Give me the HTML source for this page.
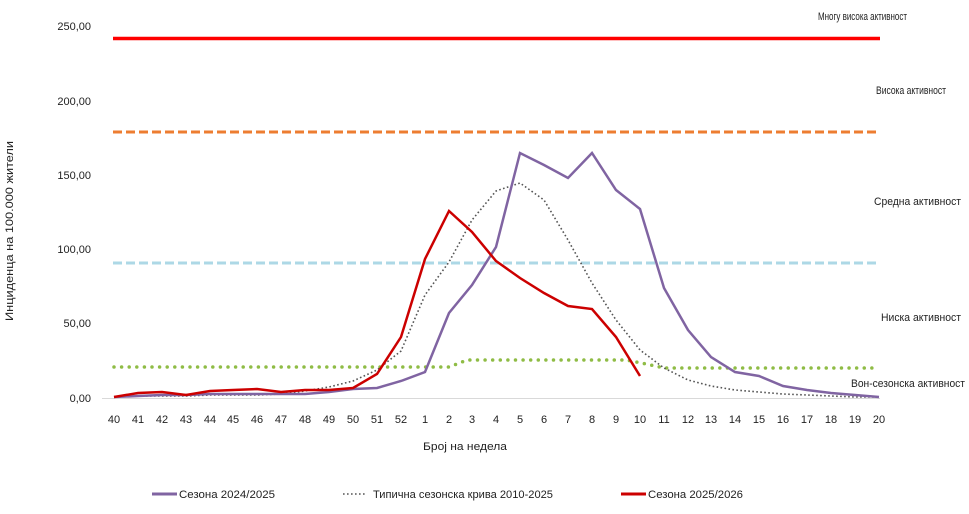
<!DOCTYPE html>
<html><head><meta charset="utf-8"><style>
body{margin:0;background:#fff;}
svg text{font-family:"Liberation Sans","DejaVu Sans",sans-serif;font-size:11px;fill:#222;}
</style></head><body>
<svg width="969" height="509" viewBox="0 0 969 509" xmlns="http://www.w3.org/2000/svg">
<g text-anchor="end">
<text x="91" y="30">250,00</text>
<text x="91" y="105">200,00</text>
<text x="91" y="179">150,00</text>
<text x="91" y="253">100,00</text>
<text x="91" y="327">50,00</text>
<text x="91" y="402">0,00</text>
</g>
<text transform="translate(13,231) rotate(-90)" text-anchor="middle" font-size="11" textLength="180" lengthAdjust="spacingAndGlyphs">Инциденца на 100.000  жители</text>
<line x1="102" y1="398.5" x2="880" y2="398.5" stroke="#d9d9d9" stroke-width="1"/>
<g text-anchor="middle">
<text x="114" y="423">40</text><text x="138" y="423">41</text><text x="162" y="423">42</text><text x="186" y="423">43</text><text x="210" y="423">44</text><text x="233" y="423">45</text><text x="257" y="423">46</text><text x="281" y="423">47</text><text x="305" y="423">48</text><text x="329" y="423">49</text><text x="353" y="423">50</text><text x="377" y="423">51</text><text x="401" y="423">52</text><text x="425" y="423">1</text><text x="449" y="423">2</text><text x="472" y="423">3</text><text x="496" y="423">4</text><text x="520" y="423">5</text><text x="544" y="423">6</text><text x="568" y="423">7</text><text x="592" y="423">8</text><text x="616" y="423">9</text><text x="640" y="423">10</text><text x="664" y="423">11</text><text x="688" y="423">12</text><text x="711" y="423">13</text><text x="735" y="423">14</text><text x="759" y="423">15</text><text x="783" y="423">16</text><text x="807" y="423">17</text><text x="831" y="423">18</text><text x="855" y="423">19</text><text x="879" y="423">20</text>
</g>
<text x="465" y="450" text-anchor="middle" textLength="84" lengthAdjust="spacingAndGlyphs">Број на недела</text>
<line x1="113" y1="38.5" x2="880" y2="38.5" stroke="#ff0000" stroke-width="3.5"/>
<line x1="113" y1="132" x2="880" y2="132" stroke="#ed7d31" stroke-width="3" stroke-dasharray="9,4"/>
<line x1="113" y1="263" x2="880" y2="263" stroke="#add8e6" stroke-width="3" stroke-dasharray="9,4"/>
<polyline fill="none" stroke="#8fbc45" stroke-width="3.5" stroke-linecap="round" stroke-dasharray="0,7.6" points="114,367 449,367 467,360 626,360 646,364 664,368 879,368"/>
<polyline fill="none" stroke="#555" stroke-width="1.6" stroke-dasharray="1.6,2.4" points="114,397 138,396 162,396 186,396 210,395 233,395 257,395 281,394 305,391 329,387 353,381 377,370 401,351 425,295 449,262 472,220 496,191 520,183 544,200 568,240 592,283 616,320 640,350 664,368 688,380 711,386 735,390 759,392 783,394 807,395 831,396 855,397 879,397"/>
<polyline fill="none" stroke="#8064a2" stroke-width="2.5" points="114,397 138,396 162,395 186,395 210,394 233,394 257,394 281,394 305,394 329,392 353,389 377,388 401,381 425,372 449,313 472,285 496,247 520,153 544,165 568,178 592,153 616,190 640,209 664,288 688,330 711,357 735,372 759,376 783,386 807,390 831,393 855,395 879,397"/>
<polyline fill="none" stroke="#cc0000" stroke-width="2.5" points="114,397 138,393 162,392 186,395 210,391 233,390 257,389 281,392 305,390 329,390 353,388 377,374 401,337 425,259 449,211 472,232 496,261 520,278 544,293 568,306 592,309 616,337 640,376"/>
<g font-size="10.5">
<text x="818" y="20" textLength="89" lengthAdjust="spacingAndGlyphs">Многу висока активност</text>
<text x="876" y="94" textLength="70" lengthAdjust="spacingAndGlyphs">Висока активност</text>
<text x="874" y="205" textLength="87" lengthAdjust="spacingAndGlyphs">Средна активност</text>
<text x="881" y="321" textLength="80" lengthAdjust="spacingAndGlyphs">Ниска активност</text>
<text x="851" y="387" textLength="114" lengthAdjust="spacingAndGlyphs">Вон-сезонска активност</text>
</g>
<line x1="152" y1="494" x2="177" y2="494" stroke="#8064a2" stroke-width="3"/>
<text x="179" y="498" textLength="96" lengthAdjust="spacingAndGlyphs">Сезона 2024/2025</text>
<line x1="343" y1="494" x2="367" y2="494" stroke="#555" stroke-width="1.6" stroke-dasharray="1.6,2.4"/>
<text x="373" y="498" textLength="180" lengthAdjust="spacingAndGlyphs">Типична сезонска крива 2010-2025</text>
<line x1="621" y1="494" x2="646" y2="494" stroke="#cc0000" stroke-width="3"/>
<text x="648" y="498" textLength="95" lengthAdjust="spacingAndGlyphs">Сезона 2025/2026</text>
</svg>
</body></html>
